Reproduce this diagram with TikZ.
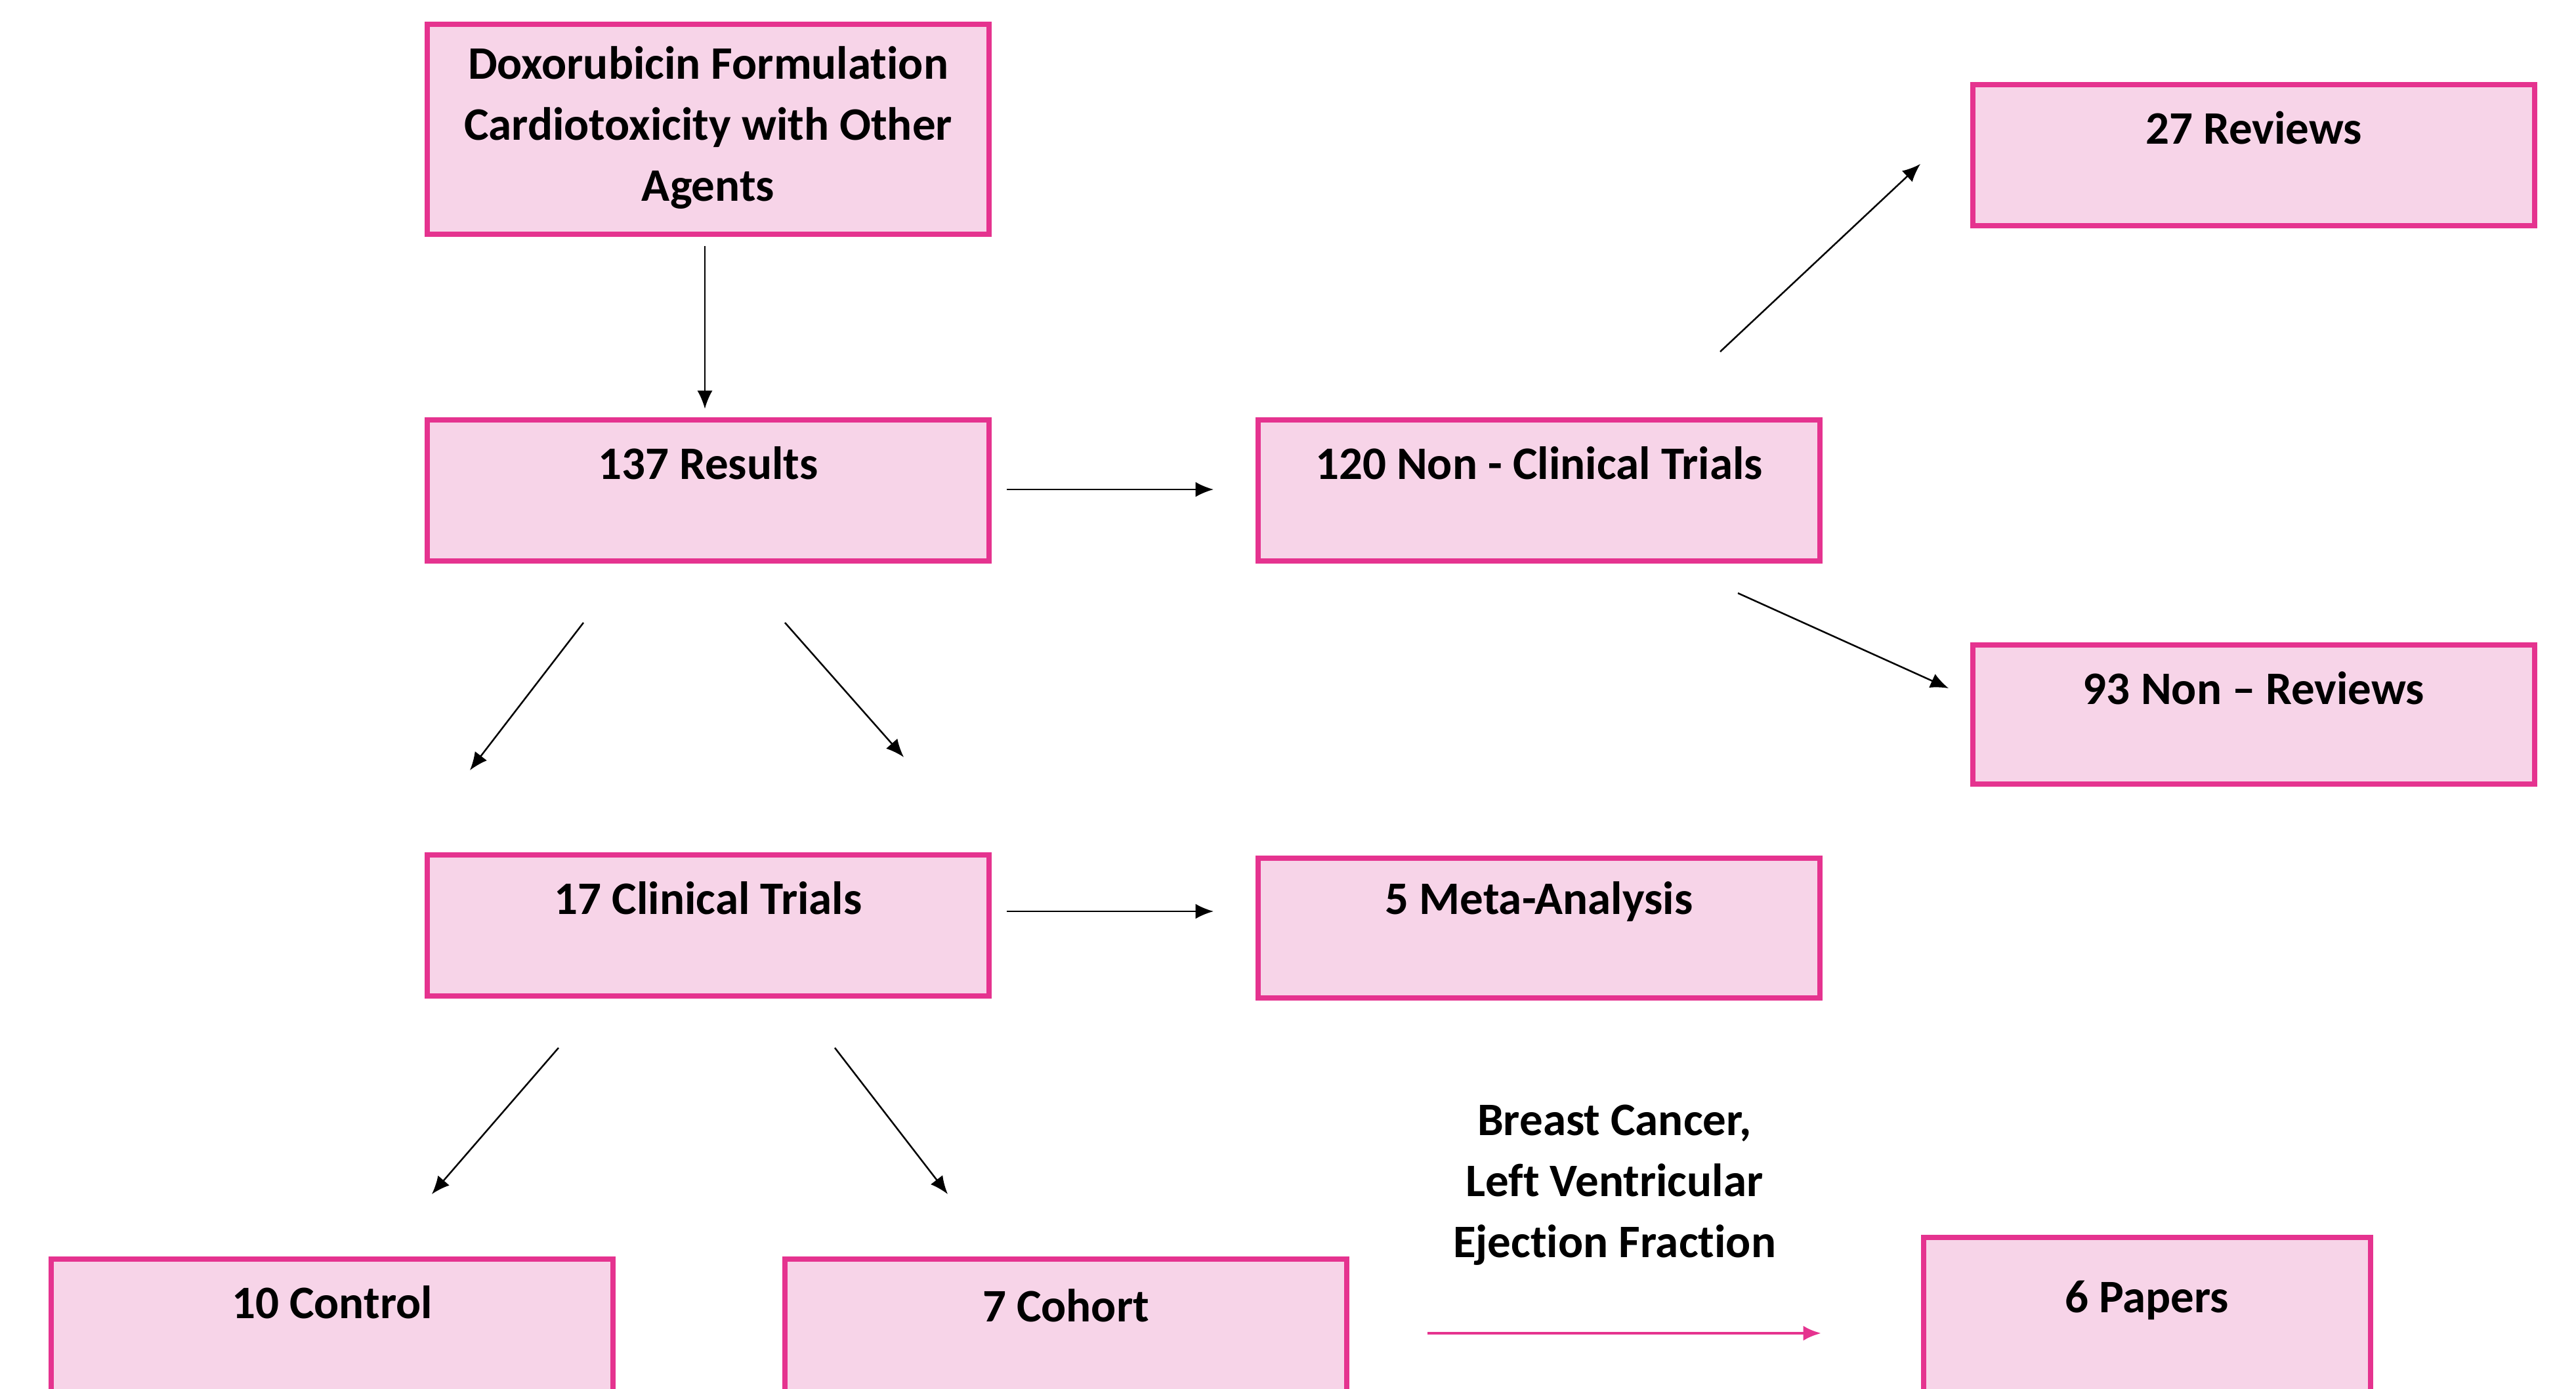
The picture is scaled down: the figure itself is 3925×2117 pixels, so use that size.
\documentclass[tikz,border=0pt]{standalone}
\usepackage{fontspec}
\setmainfont{Carlito}[Ligatures={NoCommon,NoRare}]
\usetikzlibrary{arrows.meta}
\definecolor{boxline}{RGB}{229,51,143}
\definecolor{boxfill}{RGB}{247,212,232}
\tikzset{
  pbox/.style={draw=boxline, fill=boxfill, line width=1.6pt, anchor=north, inner sep=0pt},
  lbl/.style={font=\bfseries\fontsize{14.2}{18.6}\selectfont, align=center, inner sep=0pt, anchor=center},
  arr/.style={line width=0.5pt, -{Latex[length=5.5pt,width=4.6pt]}},
  parr/.style={draw=boxline, line width=0.9pt, -{Latex[length=5.5pt,width=4.6pt]}}
}
\begin{document}
\begin{tikzpicture}[x=0.2pt,y=-0.2pt]
\clip (0,0) rectangle (3925,2117);
\fill[white] (0,0) rectangle (3925,2117);
% boxes
\node[pbox, minimum width=171.2pt, minimum height=64pt] (top) at (1079,33) {};
\node[pbox, minimum width=171.2pt, minimum height=43pt] (res) at (1079,636) {};
\node[pbox, minimum width=171.2pt, minimum height=43pt] (nct) at (2345,636) {};
\node[pbox, minimum width=171.2pt, minimum height=43pt] (rev) at (3434,125) {};
\node[pbox, minimum width=171.2pt, minimum height=42.4pt] (nrev) at (3434,979) {};
\node[pbox, minimum width=171.2pt, minimum height=43pt] (ct) at (1079,1299) {};
\node[pbox, minimum width=171.2pt, minimum height=42.6pt] (meta) at (2345,1304) {};
\node[pbox, minimum width=171.2pt, minimum height=60pt] (ctrl) at (506,1915) {};
\node[pbox, minimum width=171.2pt, minimum height=60pt] (coh) at (1624,1915) {};
\node[pbox, minimum width=136.2pt, minimum height=60pt] (pap) at (3271,1882) {};
% labels
\node[lbl] (topT) at (1079,195) {Doxorubicin Formulation\\Cardiotoxicity with Other\\Agents};
\node[lbl] (resT) at (1079,706) {137 Results};
\node[lbl] (nctT) at (2345,706) {120 Non - Clinical Trials};
\node[lbl] (revT) at (3434,195) {27 Reviews};
\node[lbl] (nrevT) at (3434,1049) {93 Non -- Reviews};
\node[lbl] (ctT) at (1079,1369) {17 Clinical Trials};
\node[lbl] (metaT) at (2345,1374) {5 Meta-Analysis};
\node[lbl] (ctrlT) at (506,1985) {10 Control};
\node[lbl] (cohT) at (1624,1990) {7 Cohort};
\node[lbl] (papT) at (3271,1982) {6 Papers};
\node[lbl] (crit) at (2460,1806) {Breast Cancer,\\Left Ventricular\\Ejection Fraction};
% arrow end points
\coordinate (a1s) at (1074,375);  \coordinate (a1e) at (1074,623);
\coordinate (a2s) at (1534,746);  \coordinate (a2e) at (1849,746);
\coordinate (a3s) at (2621,536);  \coordinate (a3e) at (2926,250);
\coordinate (a4s) at (2648,904);  \coordinate (a4e) at (2969,1049);
\coordinate (a5s) at (889,949);   \coordinate (a5e) at (716,1174);
\coordinate (a6s) at (1196,949);  \coordinate (a6e) at (1377,1154);
\coordinate (a7s) at (1534,1389); \coordinate (a7e) at (1849,1389);
\coordinate (a8s) at (851,1597);  \coordinate (a8e) at (658,1820);
\coordinate (a9s) at (1272,1597); \coordinate (a9e) at (1444,1820);
\coordinate (pas) at (2175,2032); \coordinate (pae) at (2775,2032);
% connectors
\draw[arr] (a1s) -- (a1e);
\draw[arr] (a2s) -- (a2e);
\draw[arr] (a3s) -- (a3e);
\draw[arr] (a4s) -- (a4e);
\draw[arr] (a5s) -- (a5e);
\draw[arr] (a6s) -- (a6e);
\draw[arr] (a7s) -- (a7e);
\draw[arr] (a8s) -- (a8e);
\draw[arr] (a9s) -- (a9e);
\draw[parr] (pas) -- (pae);
\end{tikzpicture}
\end{document}
